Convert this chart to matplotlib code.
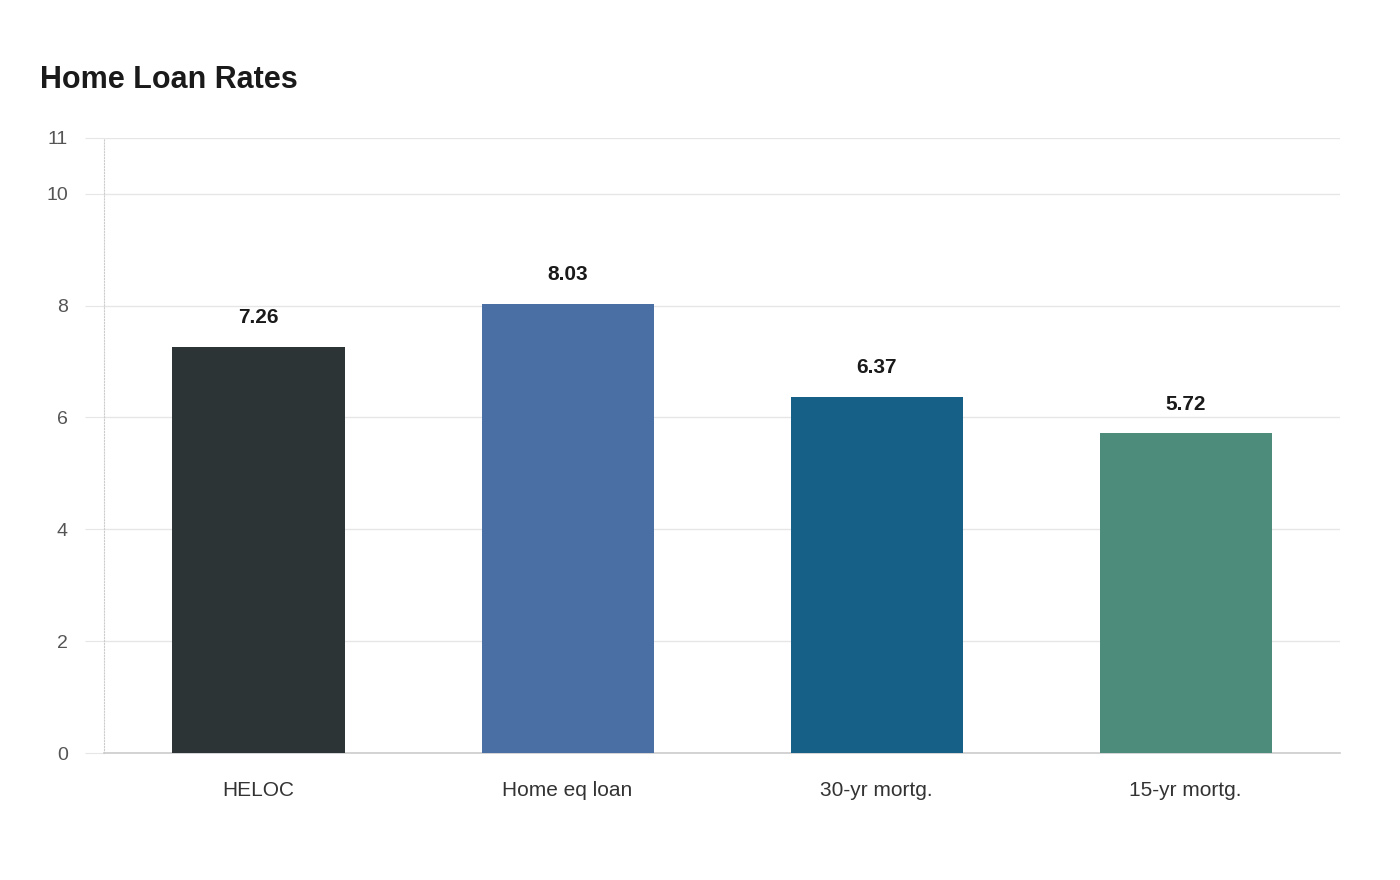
import matplotlib
matplotlib.use("Agg")
import matplotlib.pyplot as plt

plt.rcParams['font.family'] = ['Liberation Sans', 'DejaVu Sans']

categories = ["HELOC", "Home eq loan", "30-yr mortg.", "15-yr mortg."]
rates = [7.26, 8.03, 6.37, 5.72]
colors = ["#2d3436", "#4a6fa5", "#166088", "#4d8b7a"]
yticks = [0, 2, 4, 6, 8, 10, 11]

fig = plt.figure(figsize=(14, 8.8), dpi=100)
ax = fig.add_axes([0.0743, 0.1443, 0.883, 0.699])

x = range(len(categories))
ax.bar(x, rates, width=0.557, color=colors, zorder=3)
for xi, v in zip(x, rates):
    ax.text(xi, v + 0.35, f"{v:.2f}", ha="center", va="bottom",
            fontsize=15, fontweight="bold", color="#1a1a1a", zorder=4)

ax.set_xlim(-0.5, 3.5)
ax.set_ylim(0, 11)
ax.set_yticks(yticks)
ax.set_xticks(list(x))
ax.set_xticklabels(categories)
ax.tick_params(axis="y", length=14, color="#e6e6e6", labelsize=14,
               labelcolor="#555555", pad=12)
ax.tick_params(axis="x", length=0, labelsize=15, labelcolor="#333333", pad=20)
ax.grid(axis="y", color="#e6e6e6", linewidth=1, zorder=0)

for s in ("top", "right"):
    ax.spines[s].set_visible(False)
ax.spines["left"].set_color("#cccccc")
ax.spines["left"].set_linestyle(":")
ax.spines["left"].set_linewidth(0.8)
ax.spines["bottom"].set_color("#cccccc")
ax.spines["bottom"].set_linewidth(1.2)

fig.text(40 / 1400, 1 - 80 / 880, "Home Loan Rates", fontsize=22,
         fontweight="bold", color="#1a1a1a", va="center", ha="left")

fig.savefig("out.png", dpi=100)
